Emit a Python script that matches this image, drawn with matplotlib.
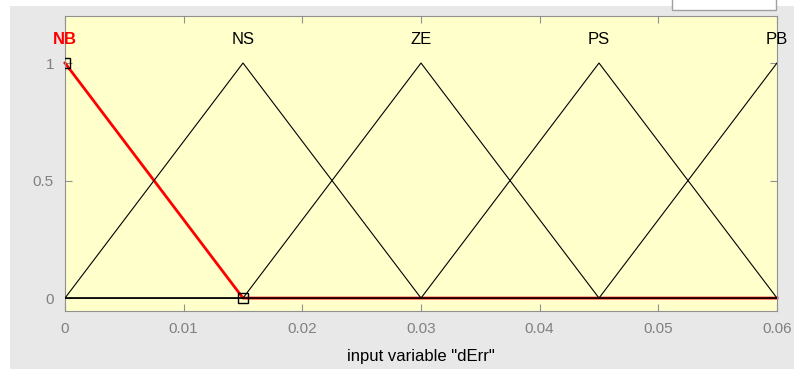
import matplotlib.pyplot as plt
import numpy as np
from matplotlib.patches import Rectangle

# membership functions of input "dErr" (triangular: a, b, c)
mf_names = ["NB", "NS", "ZE", "PS", "PB"]
mf_a = [-0.015, 0.0, 0.015, 0.03, 0.045]
mf_b = [0.0, 0.015, 0.03, 0.045, 0.06]
mf_c = [0.015, 0.03, 0.045, 0.06, 0.075]
selected = "NB"

x_ticks = [0, 0.01, 0.02, 0.03, 0.04, 0.05, 0.06]
x_ticklabels = ["0", "0.01", "0.02", "0.03", "0.04", "0.05", "0.06"]
y_ticks = [0, 0.5, 1]
y_ticklabels = ["0", "0.5", "1"]

plt.rcParams["font.family"] = ["Liberation Sans", "DejaVu Sans"]

fig = plt.figure(figsize=(7.94, 3.69), dpi=100, facecolor="#e8e8e8")
ax = fig.add_axes([65 / 794, 1 - 311 / 369, 712 / 794, 295 / 369])
ax.set_facecolor("#ffffcc")

# white margins and the box at the top right (part of the window)
fig.patches.append(Rectangle((0, 1 - 6 / 369), 1, 6 / 369, transform=fig.transFigure,
                             facecolor="white", edgecolor="none", zorder=0))
fig.patches.append(Rectangle((0, 0), 10 / 794, 1, transform=fig.transFigure,
                             facecolor="white", edgecolor="none", zorder=0))
fig.patches.append(Rectangle((672 / 794, 1 - 10 / 369), 104 / 794, 12 / 369,
                             transform=fig.transFigure, facecolor="white",
                             edgecolor="#a0a0a0", lw=1, zorder=1))

x = np.linspace(0, 0.06, 601)
for name, a, b, c in zip(mf_names, mf_a, mf_b, mf_c):
    y = np.maximum(0, np.minimum((x - a) / (b - a), (c - x) / (c - b)))
    if name == selected:
        ax.plot(x, y, color="red", lw=2, zorder=2, clip_on=False)
        ax.plot([b, c], [1, 0], ls="none", marker="s", ms=7, mfc="none",
                mec="black", mew=1, zorder=4, clip_on=True)
        color = "red"
        weight = "bold"
    else:
        ax.plot(x, y, color="black", lw=0.8, zorder=3)
        color = "black"
        weight = "normal"
    ax.text(b, 1.1, name, ha="center", va="center", color=color,
            fontsize=12, fontweight=weight)

ax.set_xlim(0, 0.06)
ax.set_ylim(-0.055, 1.2)
ax.set_xticks(x_ticks)
ax.set_xticklabels(x_ticklabels)
ax.set_yticks(y_ticks)
ax.set_yticklabels(y_ticklabels)
ax.tick_params(direction="in", length=5, color="#909090", labelcolor="#808080",
               labelsize=11, top=True, right=True, pad=8)
for s in ax.spines.values():
    s.set_color("#909090")

ax.set_xlabel('input variable "dErr"', fontsize=12, color="black", labelpad=9)

fig.savefig("out.png", dpi=100, facecolor=fig.get_facecolor())
